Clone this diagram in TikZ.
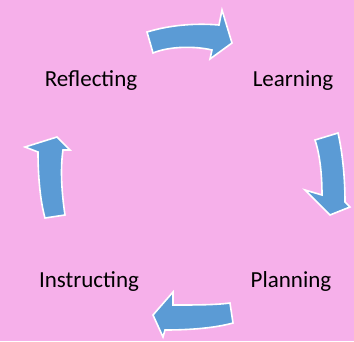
\documentclass[tikz,border=0pt]{standalone}
\usepackage{fontspec}
\setmainfont{Carlito}
\definecolor{bgpink}{RGB}{246,176,234}
\definecolor{arrowblue}{RGB}{91,155,213}
\begin{document}
\begin{tikzpicture}[x=1pt,y=-1pt,
  blockarrow/.style={fill=arrowblue,draw=white,line width=1.6pt,line join=miter},
  lbl/.style={font=\fontsize{23}{27}\selectfont,text=black,inner sep=0pt,anchor=base}]
\fill[bgpink] (0,0) rectangle (354,341);
\useasboundingbox (0,0) rectangle (354,341);
% top arrow (to the right)
\draw[blockarrow] (147,32) .. controls (170,25) and (195,23) .. (219,25)
  -- (222,10) -- (232,43) -- (210,59) -- (212,50)
  .. controls (195,46) and (170,46) .. (153,53) -- cycle;
% right arrow (downwards)
\draw[blockarrow] (338,133) .. controls (342,150) and (345,175) .. (345,202)
  -- (350,207) -- (330,215) -- (305,190) -- (322,195)
  .. controls (322,175) and (320,155) .. (315,140) -- cycle;
% bottom arrow (to the left)
\draw[blockarrow] (233,323) .. controls (215,328) and (190,330) .. (165,330)
  -- (163,337) -- (153,315) -- (173,292) -- (173,305)
  .. controls (195,305) and (215,305) .. (230,303) -- cycle;
% left arrow (upwards)
\draw[blockarrow] (45,218) .. controls (40,200) and (38,175) .. (38,152)
  -- (25,147) -- (57,137) -- (70,150) -- (63,150)
  .. controls (60,170) and (62,195) .. (65,215) -- cycle;
\node[lbl] (reflecting) at (91,86) {Reflecting};
\node[lbl] (learning) at (293,86) {Learning};
\node[lbl] (instructing) at (89,287) {Instructing};
\node[lbl] (planning) at (291,287) {Planning};
\end{tikzpicture}
\end{document}
